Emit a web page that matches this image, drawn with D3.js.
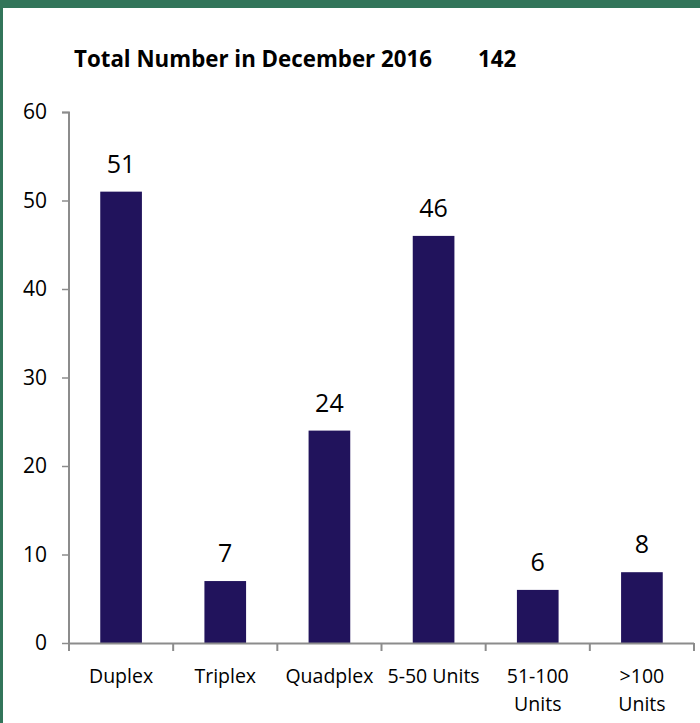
<!DOCTYPE html>
<html><head><meta charset="utf-8">
<script src="https://cdn.jsdelivr.net/npm/d3@7"></script>
<style>html,body{margin:0;padding:0;background:#fff;overflow:hidden}</style>
</head><body><svg id="c" width="700" height="723"></svg>
<script>
const categories = [["Duplex"],["Triplex"],["Quadplex"],["5-50 Units"],["51-100","Units"],[">100","Units"]];
const values = [51, 7, 24, 46, 6, 8];
const yTicks = [0, 10, 20, 30, 40, 50, 60];
const titleText = "Total Number in December 2016";
const totalText = "142";

const svg = d3.select("#c");
const font = "'Open Sans', sans-serif";
// frame
svg.append("rect").attr("x",0).attr("y",0).attr("width",700).attr("height",8).attr("fill","#32755a");
svg.append("rect").attr("x",0).attr("y",0).attr("width",3).attr("height",723).attr("fill","#32755a");

const x = d3.scaleBand().domain(d3.range(categories.length)).range([69, 694]).paddingInner(0.6).paddingOuter(0.3);
const y = d3.scaleLinear().domain([0, 60]).range([643, 112]);

// title
svg.append("text").attr("x",74).attr("y",67).attr("font-family",font).attr("font-weight","bold").attr("font-size",22.3).attr("fill","#000").text(titleText);
svg.append("text").attr("x",478).attr("y",67).attr("font-family",font).attr("font-weight","bold").attr("font-size",22.3).attr("fill","#000").text(totalText);

// y axis
const yAxis = d3.axisLeft(y).tickValues(yTicks).tickSize(7).tickPadding(15);
const gy = svg.append("g").attr("transform","translate(69,0)").call(yAxis);
gy.attr("font-size",21).attr("font-family",font);
gy.select(".domain").attr("stroke","#8c8c8c").attr("stroke-width",2).attr("d","M-7,112.5H0V643");
gy.selectAll(".tick line").attr("stroke","#8c8c8c").attr("stroke-width",1.5);
gy.selectAll(".tick text").attr("font-family",font).attr("font-size",21).attr("fill","#000");

// bars
svg.selectAll("rect.bar").data(values).join("rect").attr("class","bar")
  .attr("x",(d,i)=>x(i)).attr("width",x.bandwidth())
  .attr("y",d=>y(d)).attr("height",d=>y(0)-y(d)).attr("fill","#21135c");

// x axis
const xEdges = d3.range(categories.length+1).map(i => 69 + i*(625/categories.length));
svg.append("line").attr("x1",69).attr("x2",694).attr("y1",643.5).attr("y2",643.5).attr("stroke","#8c8c8c").attr("stroke-width",2);
svg.selectAll("line.xt").data(xEdges).join("line").attr("class","xt")
  .attr("x1",d=>d).attr("x2",d=>d).attr("y1",643).attr("y2",651).attr("stroke","#8c8c8c").attr("stroke-width",2);

// category labels
categories.forEach((lines,i)=>{
  const cx = x(i)+x.bandwidth()/2;
  const t = svg.append("text").attr("x",cx).attr("y",683).attr("text-anchor","middle")
    .attr("font-family",font).attr("font-size",19.5).attr("fill","#000");
  lines.forEach((l,j)=>t.append("tspan").attr("x",cx).attr("dy",j===0?0:28).text(l));
});

// value labels
svg.selectAll("text.val").data(values).join("text").attr("class","val")
  .attr("x",(d,i)=>x(i)+x.bandwidth()/2).attr("y",d=>y(d)-19)
  .attr("text-anchor","middle").attr("font-family",font).attr("font-size",25).attr("fill","#000")
  .text(d=>d);
</script></body></html>
